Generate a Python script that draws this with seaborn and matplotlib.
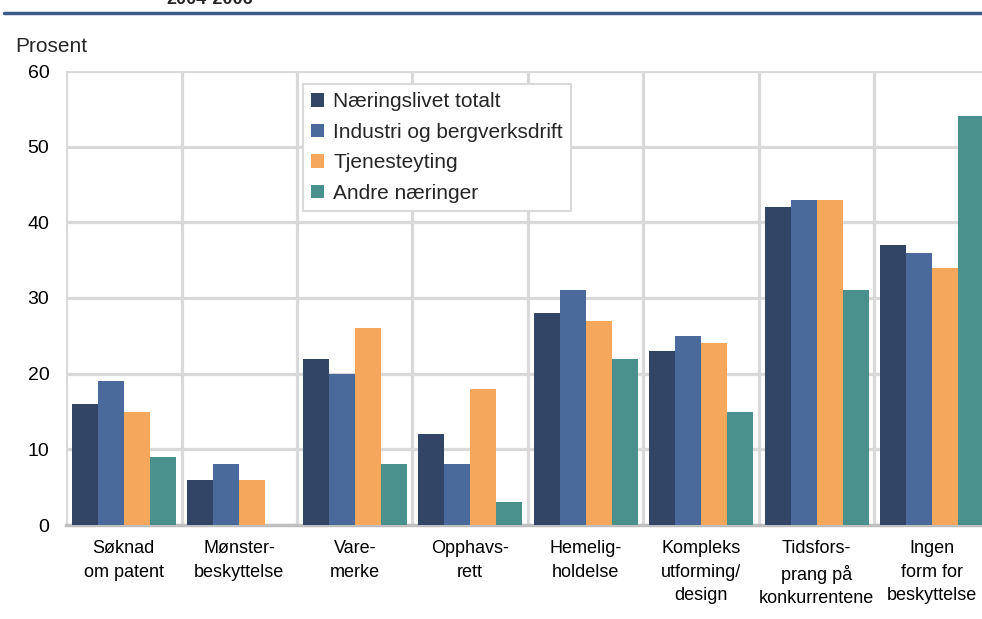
import matplotlib
matplotlib.use("Agg")
import matplotlib.pyplot as plt
import seaborn as sns
import pandas as pd
import numpy as np

categories = ["Søknad\nom patent", "Mønster-\nbeskyttelse", "Vare-\nmerke", "Opphavs-\nrett",
              "Hemelig-\nholdelse", "Kompleks\nutforming/\ndesign", "Tidsfors-\nprang på\nkonkurrentene",
              "Ingen\nform for\nbeskyttelse"]
series = ["Næringslivet totalt", "Industri og bergverksdrift", "Tjenesteyting", "Andre næringer"]
naeringslivet = [16, 6, 22, 12, 28, 23, 42, 37]
industri = [19, 8, 20, 8, 31, 25, 43, 36]
tjenesteyting = [15, 6, 26, 18, 27, 24, 43, 34]
andre = [9, np.nan, 8, 3, 22, 15, 31, 54]
colors = ["#334566", "#4a6a9c", "#f5a85c", "#4a918e"]

rows = []
for s, vals in zip(series, [naeringslivet, industri, tjenesteyting, andre]):
    for c, v in zip(categories, vals):
        rows.append({"kategori": c, "serie": s, "verdi": v})
df = pd.DataFrame(rows)

sns.set_theme(style="white")
plt.rcParams['font.family'] = ['Liberation Sans', 'DejaVu Sans']

fig = plt.figure(figsize=(9.82, 6.19), dpi=100)
W, H = 982, 619
left, right, top, bottom = 66, 990, 71, 525
ax = fig.add_axes([left / W, 1 - bottom / H, (right - left) / W, (bottom - top) / H])

sns.barplot(data=df, x="kategori", y="verdi", hue="serie", palette=colors,
            width=0.9, ax=ax, saturation=1, edgecolor="none", zorder=3)

ax.set_ylim(0, 60)
ax.set_xlim(-0.5, len(categories) - 0.5)
ax.set_yticks(range(0, 61, 10))
ax.set_yticklabels([str(v) for v in range(0, 61, 10)], fontsize=14, color="black")
ax.set_xticks(range(len(categories)))
ax.set_xticklabels(categories, fontsize=13, color="black", linespacing=1.5)
ax.set_xticks(np.arange(-0.5, len(categories), 1), minor=True)
ax.tick_params(axis="both", which="both", length=0)
ax.tick_params(axis="x", pad=11)
ax.tick_params(axis="y", pad=12)
ax.set_xlabel("")
ax.set_ylabel("")
ax.grid(True, axis="y", which="major", color="#d9d9d9", linewidth=2.3, zorder=0)
ax.grid(True, axis="x", which="minor", color="#d9d9d9", linewidth=2.3, zorder=0)
ax.grid(False, axis="x", which="major")
ax.set_axisbelow(True)
for s in ["top", "right", "left"]:
    ax.spines[s].set_visible(False)
ax.spines["bottom"].set_color("#bfbfbf")
ax.spines["bottom"].set_linewidth(2.5)

leg = ax.legend(loc="upper left", bbox_to_anchor=((303 - left) / (right - left), 1 - (84 - top) / (bottom - top)),
                frameon=True, fontsize=15, handlelength=0.6, handleheight=0.6, handletextpad=0.45,
                borderpad=0.4, labelspacing=0.55, fancybox=False, borderaxespad=0)
leg.get_frame().set_edgecolor("#d9d9d9")
leg.get_frame().set_linewidth(1.5)
leg.get_frame().set_alpha(1)

fig.text(15 / W, 1 - 46 / H, "Prosent", fontsize=15, va="center", ha="left")
fig.text(210 / W, 1 - 4 / H, "2004-2006", fontsize=13, fontweight="bold", va="baseline", ha="center")
fig.add_artist(plt.Line2D([4 / W, 1], [1 - 13 / H, 1 - 13 / H], color="#3d5a8a", linewidth=2.5))

fig.savefig("out.png", dpi=100)
